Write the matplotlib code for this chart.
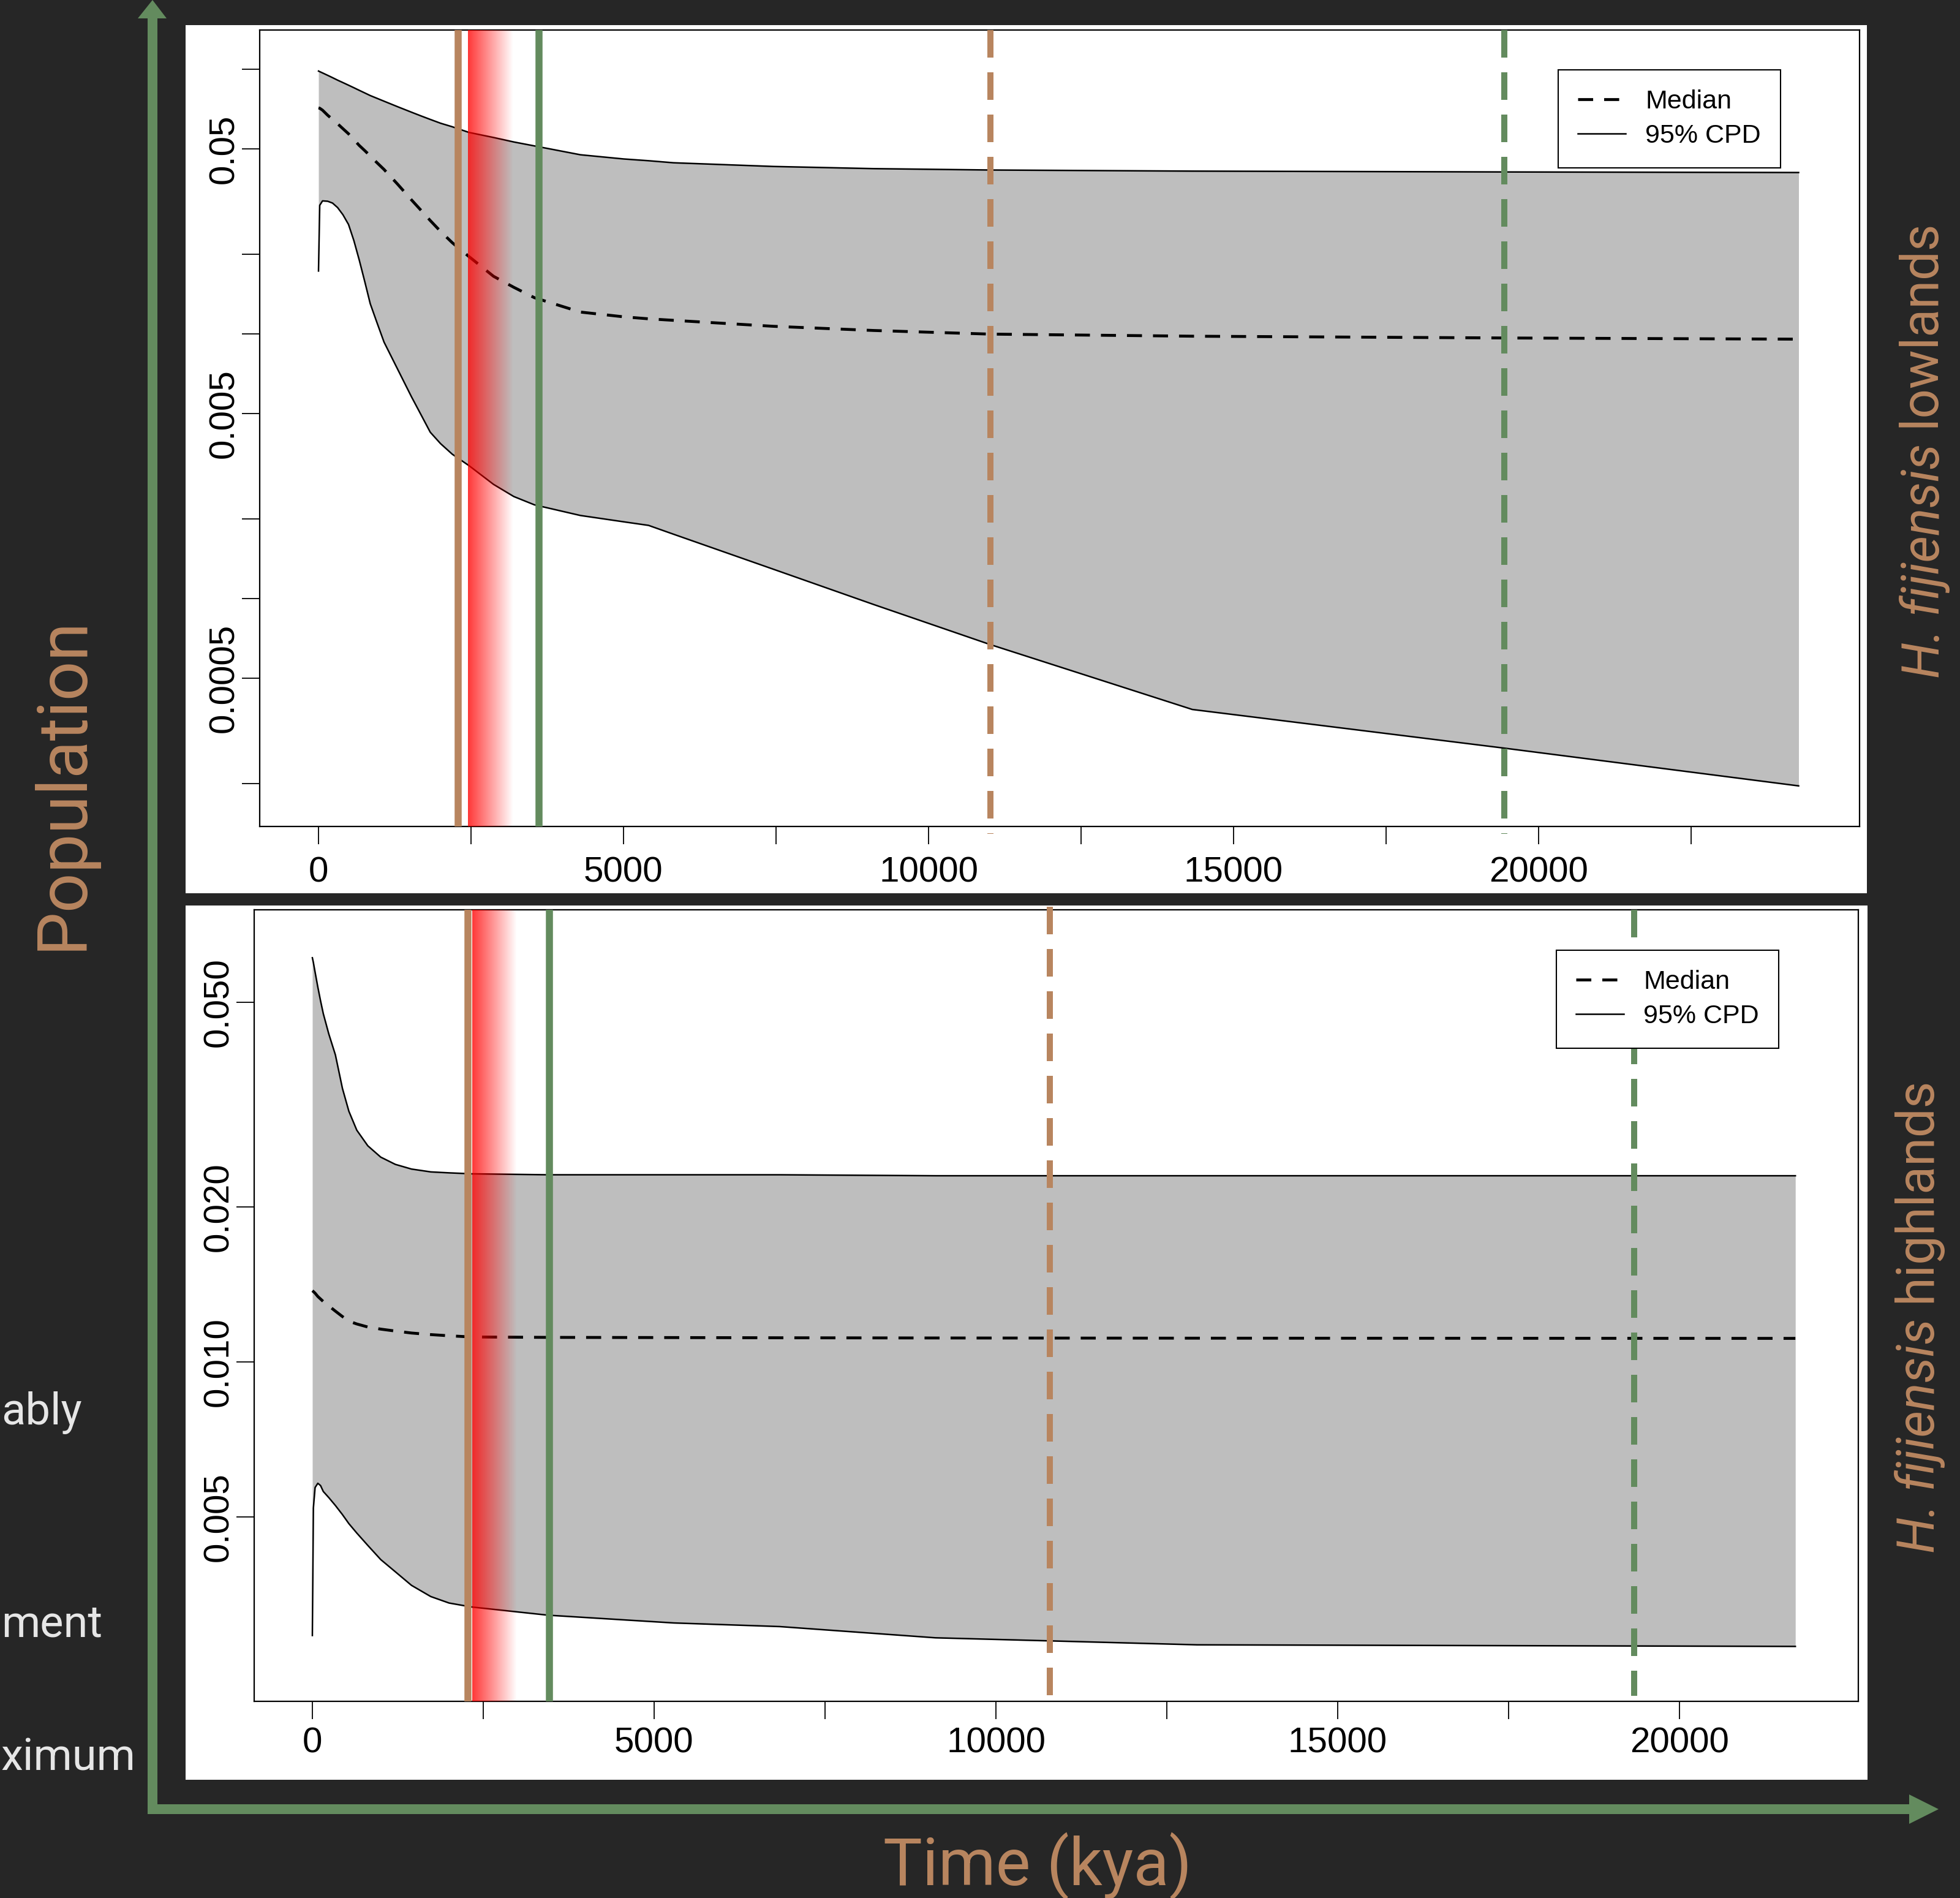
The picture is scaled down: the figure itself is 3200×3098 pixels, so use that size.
import numpy as np
import matplotlib.pyplot as plt
from matplotlib.patches import Rectangle, Polygon
from matplotlib.lines import Line2D

# ---- lowlands (top panel) ----
t_low = [0, 20, 66, 150, 230, 313, 400, 492, 580, 668, 760, 848, 960, 1074, 1300, 1523, 1680,
         1832, 2000, 2193, 2465, 2869, 3200, 3539, 4293, 5000, 5410, 5820, 7459, 9098, 11004,
         14324, 19447, 24262]
hi_low = [0.0984, 0.0979, 0.0968, 0.0948, 0.0929, 0.0909, 0.0890, 0.0870, 0.0851, 0.0832,
          0.0813, 0.0795, 0.0776, 0.0757, 0.0721, 0.0688, 0.0666, 0.0646, 0.0625, 0.0606,
          0.0577, 0.0552, 0.0531, 0.0513, 0.0475, 0.0458, 0.0451, 0.0443, 0.0429, 0.0421,
          0.0416, 0.0412, 0.0409, 0.0407]
med_low = [0.0714, 0.0712, 0.0700, 0.0670, 0.0646, 0.0622, 0.0596, 0.0570, 0.0542, 0.0515,
           0.0492, 0.0470, 0.0443, 0.0418, 0.0367, 0.0321, 0.0293, 0.0268, 0.0244, 0.0221,
           0.0196, 0.0165, 0.0150, 0.0137, 0.01209, 0.01160, 0.01140, 0.01125, 0.01068, 0.01030,
           0.00998, 0.00980, 0.00965, 0.00955]
lo_low = [0.01728, 0.0306, 0.0318, 0.0317, 0.0312, 0.0300, 0.0282, 0.0259, 0.0225, 0.0190,
          0.0157, 0.0130, 0.0110, 0.00931, 0.00733, 0.00579, 0.00495, 0.00425, 0.00385, 0.00351,
          0.00318, 0.0027, 0.00243, 0.00226, 0.00206, 0.00195, 0.00189, 0.00175, 0.00129, 0.00095,
          0.000671, 0.000381, 0.000272, 0.000196]

# ---- highlands (bottom panel) ----
t_high = [0, 15, 40, 80, 120, 160, 240, 337, 440, 534, 650, 811, 1000, 1214, 1450, 1732, 2000,
          2330, 3446, 5287, 6837, 9116, 12944, 21695]
hi_high = [0.0610, 0.0597, 0.0572, 0.0535, 0.0503, 0.0475, 0.0434, 0.0395, 0.0340, 0.0307,
           0.0282, 0.0263, 0.0250, 0.0242, 0.0237, 0.0234, 0.0233, 0.0232, 0.0231, 0.0231,
           0.0231, 0.0230, 0.0230, 0.0230]
med_high = [0.01375, 0.0137, 0.0136, 0.0134, 0.01325, 0.0131, 0.01285, 0.01255, 0.01225, 0.0120,
            0.01185, 0.01169, 0.01158, 0.01148, 0.01138, 0.0113, 0.01124, 0.01118, 0.01116,
            0.01115, 0.01114, 0.01113, 0.01112, 0.01111]
lo_high = [0.00294, 0.0052, 0.0057, 0.00581, 0.00575, 0.0056, 0.00545, 0.00526, 0.00505, 0.00485,
           0.00465, 0.0044, 0.00413, 0.00391, 0.00368, 0.0035, 0.0034, 0.00334, 0.00322, 0.00311,
           0.00306, 0.00291, 0.00282, 0.0028]

# event markers: brown solid, red band, green solid, brown dashed, green dashed
ev_low = dict(brown=2290, red=(2450, 3190), green=3615, brown_d=11010, green_d=19440)
ev_high = dict(brown=2280, red=(2339, 2990), green=3464, brown_d=10790, green_d=19340)

xticks_low = np.arange(0, 22501, 2500)
xticks_high = np.arange(0, 20001, 2500)
yticks_low = [0.1, 0.05, 0.02, 0.01, 0.005, 0.002, 0.001, 0.0005, 0.0002]
ylabels_low = ['', '0.05', '', '', '0.005', '', '', '0.0005', '']
yticks_high = [0.005, 0.01, 0.02, 0.05]
ylabels_high = ['0.005', '0.010', '0.020', '0.050']
legend_labels = ['Median', '95% CPD']

W, H, DPI = 3200, 3098, 100
BG = '#262626'
BROWN = '#B8855F'
GREEN = '#638B5E'

fig = plt.figure(figsize=(W / DPI, H / DPI), dpi=DPI, facecolor=BG)

# pixel overlay for panels, arrows and labels
bg = fig.add_axes([0, 0, 1, 1])
bg.set_xlim(0, W)
bg.set_ylim(H, 0)
bg.axis('off')
bg.set_zorder(0)
bg.add_patch(Rectangle((303, 41), 2745, 1417, color='white', lw=0))
bg.add_patch(Rectangle((303, 1478), 2746, 1427, color='white', lw=0))
bg.add_patch(Polygon([(241, 2961), (241, 30), (225, 30), (249, 0), (272, 30), (257, 30),
                      (257, 2945), (3117, 2945), (3117, 2929), (3165, 2953), (3117, 2977),
                      (3117, 2961)], closed=True, color=GREEN, lw=0))

bg.text(103, 1278, 'Population', rotation=90, ha='center', va='center',
        fontsize=82, color=BROWN, family='Roboto')
bg.text(1694, 3046, 'Time (kya)', ha='center', va='center',
        fontsize=77, color=BROWN, family='Roboto')
for s, y in [('ably', 2325), ('ment', 2671), ('ximum', 2890)]:
    bg.text(2, y, s, ha='left', va='baseline', fontsize=52, color='#E6E6E6', family='Roboto')


def side_label(cx, cy, ital, rest):
    a = bg.text(cx, 0, ital, rotation=90, ha='center', va='bottom', fontsize=61,
                color=BROWN, family='Roboto', style='italic')
    b = bg.text(cx, 0, rest, rotation=90, ha='center', va='bottom', fontsize=61,
                color=BROWN, family='Roboto')
    r = fig.canvas.get_renderer()
    h1 = a.get_window_extent(r).height
    h2 = b.get_window_extent(r).height
    y0 = cy + (h1 + h2) / 2
    a.set_y(y0)
    b.set_y(y0 - h1)


side_label(3142, 736, 'H. fijiensis', ' lowlands')
side_label(3135, 2150, 'H. fijiensis', ' highlands')


def rect(l, t, r, b):
    return [l / W, 1 - b / H, (r - l) / W, (b - t) / H]


def panel(ax, t, lo, med, hi, ev, xlim, ylim, xticks, yticks, ylabels, leg_anchor,
          brown_ext, green_ext, xpad):
    ax.set_zorder(1)
    ax.fill_between(t, lo, hi, color='#BEBEBE', lw=0, zorder=1)
    ax.plot(t, hi, color='k', lw=1.8, zorder=2)
    ax.plot(t, lo, color='k', lw=1.8, zorder=2)
    ax.plot(t, med, color='k', lw=3.4, dashes=(5.2, 3.8), zorder=2)

    # red fading band
    grad = np.zeros((1, 256, 4))
    grad[..., 0] = 1.0
    grad[..., 3] = np.linspace(0.78, 0.0, 256)
    ax.imshow(grad, extent=[ev['red'][0], ev['red'][1], ylim[0], ylim[1]],
              aspect='auto', interpolation='bilinear', zorder=3)

    ax.axvline(ev['brown'], color=BROWN, lw=8.3, zorder=4)
    ax.axvline(ev['green'], color=GREEN, lw=8.3, zorder=4)
    tr = ax.get_xaxis_transform()
    ax.plot([ev['brown_d']] * 2, brown_ext, color=BROWN, lw=7.2, dashes=(4.5, 2.4),
            transform=tr, clip_on=False, zorder=4)
    ax.plot([ev['green_d']] * 2, green_ext, color=GREEN, lw=7.2, dashes=(4.5, 2.4),
            transform=tr, clip_on=False, zorder=4)

    ax.set_yscale('log')
    ax.set_xlim(*xlim)
    ax.set_ylim(*ylim)
    ax.set_xticks(xticks)
    ax.set_xticklabels([str(int(v)) if v % 5000 == 0 else '' for v in xticks])
    ax.set_yticks(yticks)
    ax.yaxis.set_minor_locator(plt.NullLocator())
    ax.set_yticklabels(ylabels, rotation=90, va='center')
    ax.tick_params(axis='both', direction='out', length=21, width=1.3, labelsize=42,
                   colors='k')
    ax.tick_params(axis='x', pad=xpad)
    ax.tick_params(axis='y', pad=1)
    for lab in ax.get_xticklabels() + ax.get_yticklabels():
        lab.set_family('Liberation Sans')
    for sp in ax.spines.values():
        sp.set_linewidth(1.6)

    handles = [Line2D([], [], color='k', lw=3.4, dashes=(5.2, 3.8)),
               Line2D([], [], color='k', lw=1.8)]
    leg = ax.legend(handles, legend_labels, loc='upper right', bbox_to_anchor=leg_anchor,
                    bbox_transform=fig.transFigure, borderaxespad=0,
                    prop={'family': 'Liberation Sans', 'size': 31},
                    handlelength=1.8, handletextpad=0.75, borderpad=0.75, labelspacing=0.36,
                    frameon=True, fancybox=False, edgecolor='k', framealpha=1)
    leg.get_frame().set_linewidth(1.5)
    leg.set_zorder(10)


ax1 = fig.add_axes(rect(424, 49, 3036, 1349))
panel(ax1, t_low, lo_low, med_low, hi_low, ev_low, (-964, 25261), (0.0001377, 0.1406),
      xticks_low, yticks_low, ylabels_low, (2907 / W, 1 - 114 / H),
      [1.0, -0.009], [1.0, -0.009], 14)

ax2 = fig.add_axes(rect(415, 1485, 3034, 2777))
panel(ax2, t_high, lo_high, med_high, hi_high, ev_high, (-851, 22616), (0.00219, 0.0756),
      xticks_high, yticks_high, ylabels_high, (2904 / W, 1 - 1551 / H),
      [1.004, -0.008], [1.0, 0.007], 9)

fig.savefig('out.png', dpi=DPI, facecolor=BG)
